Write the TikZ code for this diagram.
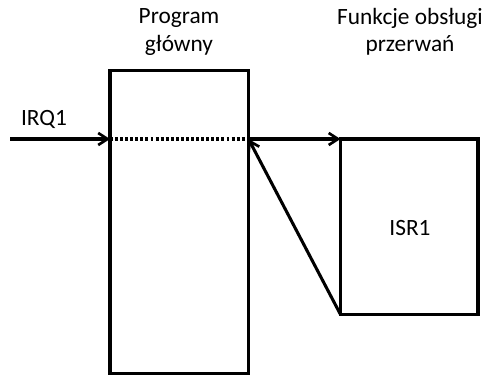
\documentclass[tikz,border=0pt]{standalone}
\usepackage{fontspec}
\setmainfont{Carlito}
\usetikzlibrary{arrows.meta}
\begin{document}
\begin{tikzpicture}[x=0.75pt,y=-0.75pt,
  ln/.style={line width=2.3pt},
  arr/.style={ln,-{Straight Barb[length=7pt,width=9pt,line width=2pt]}},
  lbl/.style={font=\fontsize{17.5}{20.5}\selectfont,align=center,inner sep=0pt}]
\useasboundingbox (0,0) rectangle (486,378);
\coordinate (mtl) at (110,70.5);
\coordinate (mbr) at (248.5,373.5);
\coordinate (itl) at (340.5,139);
\coordinate (ibr) at (478,314.5);
\draw[ln] (mtl) rectangle (mbr);
\draw[ln] (itl) rectangle (ibr);
\coordinate (irqs) at (10,139);
\coordinate (ml) at (110,139);
\coordinate (mr) at (248.5,139);
\coordinate (ibl) at (340.5,314.5);
\draw[arr] (irqs) -- (ml);
\draw[line width=2.3pt,dash pattern=on 2.2pt off 1.6pt] (ml) -- (mr);
\draw[arr] (mr) -- (itl);
\draw[arr] (ibl) -- (mr);
\node[lbl] (prog) at (179,32) {Program\\główny};
\node[lbl] (fun) at (410,32) {Funkcje obsługi\\przerwań};
\node[lbl] (isr) at (410,228) {ISR1};
\node[lbl] (irq) at (44,119) {IRQ1};
\end{tikzpicture}
\end{document}
